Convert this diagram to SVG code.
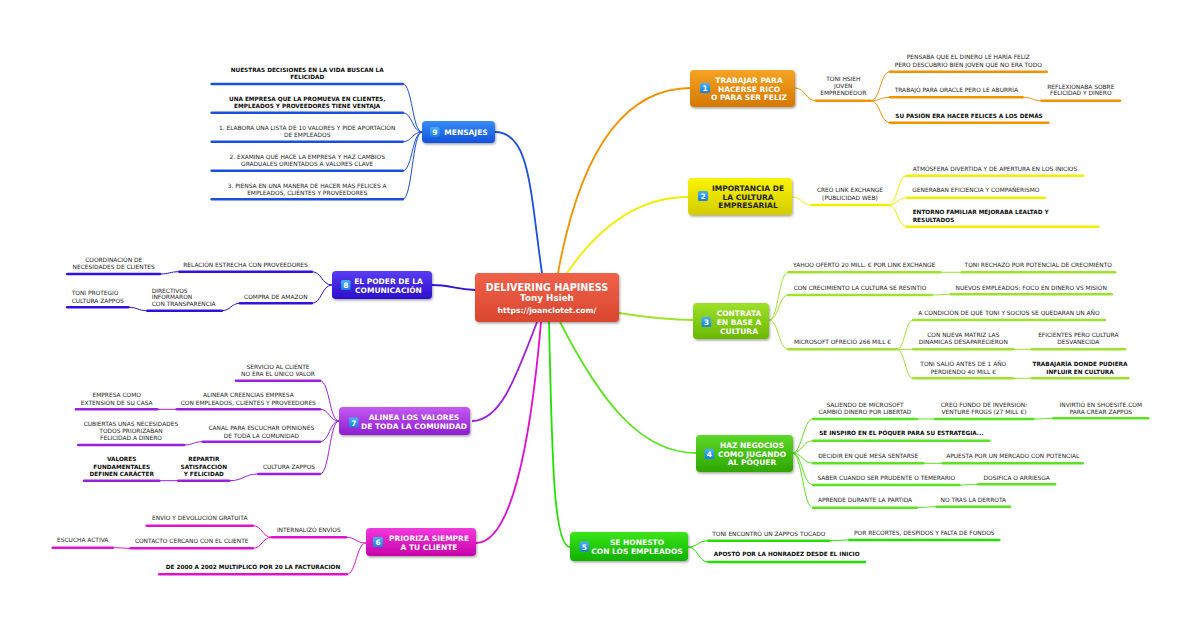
<svg xmlns="http://www.w3.org/2000/svg" width="1200" height="627" viewBox="0 0 1200 627">
<defs>
<style>
.t{font-family:"DejaVu Sans",Verdana,sans-serif;font-size:5.9px;fill:#262626;text-anchor:middle}
.s{text-anchor:start}
.b{font-weight:bold;fill:#0d0d0d;font-size:5.75px}
.tp{font-family:"DejaVu Sans",Verdana,sans-serif;font-weight:bold;font-size:7.5px;fill:#fff;text-anchor:middle}
.dk{fill:#222}
.bn{font-family:"DejaVu Sans",Verdana,sans-serif;font-weight:bold;font-size:7.5px;fill:#fff;text-anchor:middle}
.u{fill:none;stroke-width:2.6;stroke-linecap:round}
.c{fill:none;stroke-width:1}
.m{fill:none;stroke-width:1.8}
.o{stroke:#f39200}.y{stroke:#f2ee00}.lg{stroke:#9ee22d}.g{stroke:#5ce31f}.bg{stroke:#22e000}.mg{stroke:#e010d0}.pu{stroke:#9b1fe0}.in{stroke:#3311dd}.bl{stroke:#1a4fe0}
</style>
<filter id="sh" x="-20%" y="-20%" width="140%" height="150%"><feDropShadow dx="1" dy="1.5" stdDeviation="1.2" flood-color="#000" flood-opacity="0.35"/></filter>
<linearGradient id="gR" x1="0" y1="0" x2="0" y2="1"><stop offset="0" stop-color="#f0614a"/><stop offset="1" stop-color="#d9462f"/></linearGradient>
<linearGradient id="g1" x1="0" y1="0" x2="0" y2="1"><stop offset="0" stop-color="#f5a324"/><stop offset="1" stop-color="#d47800"/></linearGradient>
<linearGradient id="g2" x1="0" y1="0" x2="0" y2="1"><stop offset="0" stop-color="#f8f400"/><stop offset="1" stop-color="#d4cc00"/></linearGradient>
<linearGradient id="g3" x1="0" y1="0" x2="0" y2="1"><stop offset="0" stop-color="#9ee02a"/><stop offset="1" stop-color="#68b800"/></linearGradient>
<linearGradient id="g4" x1="0" y1="0" x2="0" y2="1"><stop offset="0" stop-color="#5cd82a"/><stop offset="1" stop-color="#2ea600"/></linearGradient>
<linearGradient id="g5" x1="0" y1="0" x2="0" y2="1"><stop offset="0" stop-color="#3ae618"/><stop offset="1" stop-color="#10b000"/></linearGradient>
<linearGradient id="g6" x1="0" y1="0" x2="0" y2="1"><stop offset="0" stop-color="#f23adc"/><stop offset="1" stop-color="#c600a8"/></linearGradient>
<linearGradient id="g7" x1="0" y1="0" x2="0" y2="1"><stop offset="0" stop-color="#c45af2"/><stop offset="1" stop-color="#8e1ed0"/></linearGradient>
<linearGradient id="g8" x1="0" y1="0" x2="0" y2="1"><stop offset="0" stop-color="#5a3cf2"/><stop offset="1" stop-color="#2a0ecc"/></linearGradient>
<linearGradient id="g9" x1="0" y1="0" x2="0" y2="1"><stop offset="0" stop-color="#3a8cf6"/><stop offset="1" stop-color="#1052dc"/></linearGradient>
<linearGradient id="gB" x1="0" y1="0" x2="0" y2="1"><stop offset="0" stop-color="#49b0f5"/><stop offset="1" stop-color="#1a7ee0"/></linearGradient>
</defs>
<rect width="1200" height="627" fill="#fff"/>

<g id="connectors">
<path class="m o" d="M558 273 C575 180 610 88 691 88"/>
<path class="m y" d="M567 273 C600 225 640 197 688 197"/>
<path class="m lg" d="M619 313 C650 318 670 320 694 320"/>
<path class="m g" d="M560 322 C600 400 640 453 696 453"/>
<path class="m bg" d="M549 322 C552 450 553 547 570 547"/>
<path class="m mg" d="M541 322 C530 450 510 543 476 543"/>
<path class="m pu" d="M537 322 C515 380 500 421 472 421"/>
<path class="m in" d="M475 290 C455 289 450 285 432 285"/>
<path class="m bl" d="M542 273 C530 190 530 132 495 132"/>

<path class="c o" d="M795 88 C805.5 88 805.5 100.7 816 100.7"/>
<path class="c o" d="M870.7 100.7 C880.3 100.7 880.3 71.7 890 71.7"/>
<path class="c o" d="M870.7 100.7 C880.3 100.7 880.3 97.3 890 97.3"/>
<path class="c o" d="M870.7 100.7 C880.3 100.7 880.3 122.7 890 122.7"/>
<path class="c o" d="M1022.7 97.3 C1032.2 97.3 1032.2 100.7 1041.7 100.7"/>

<path class="c y" d="M792 197 C801.8 197 801.8 205 811.7 205"/>
<path class="c y" d="M888.3 205 C897.5 205 897.5 175.7 906.7 175.7"/>
<path class="c y" d="M888.3 205 C897.5 205 897.5 197.7 906.7 197.7"/>
<path class="c y" d="M888.3 205 C897.5 205 897.5 226.7 906.7 226.7"/>

<path class="c lg" d="M769 320 C778.6 320 778.6 272.3 788.3 272.3"/>
<path class="c lg" d="M769 320 C778.6 320 778.6 295 788.3 295"/>
<path class="c lg" d="M769 320 C778.6 320 778.6 349.3 788.3 349.3"/>
<path class="c lg" d="M940 272.3 L961.7 272.3"/>
<path class="c lg" d="M931.7 295 C941.2 295 941.2 294.3 950.7 294.3"/>
<path class="c lg" d="M896.7 349.3 C905 349.3 905 320 913.3 320"/>
<path class="c lg" d="M896.7 349.3 L913.3 349.3"/>
<path class="c lg" d="M896.7 349.3 C905 349.3 905 378.3 913.3 378.3"/>
<path class="c lg" d="M1013.3 349.3 L1031.7 349.3"/>
<path class="c lg" d="M1013.3 378.3 L1031.7 378.3"/>

<path class="c g" d="M792 453 C802.6 453 802.6 419 813.3 419"/>
<path class="c g" d="M792 453 C802.6 453 802.6 440.7 813.3 440.7"/>
<path class="c g" d="M792 453 C802.6 453 802.6 463.3 813.3 463.3"/>
<path class="c g" d="M792 453 C802.6 453 802.6 485 813.3 485"/>
<path class="c g" d="M792 453 C802.6 453 802.6 507.7 813.3 507.7"/>
<path class="c g" d="M916.7 419 L935 419"/>
<path class="c g" d="M1033.3 419 C1043.3 419 1043.3 418.3 1053.3 418.3"/>
<path class="c g" d="M923.3 463.3 L942.7 463.3"/>
<path class="c g" d="M959.3 485 C968.8 485 968.8 484.3 978.3 484.3"/>
<path class="c g" d="M916.7 507.7 C926.7 507.7 926.7 506.7 936.7 506.7"/>

<path class="c bg" d="M688 547 C698.1 547 698.1 540.7 708.3 540.7"/>
<path class="c bg" d="M688 547 C698.1 547 698.1 562 708.3 562"/>
<path class="c bg" d="M829.3 540.7 C839.3 540.7 839.3 540 849.3 540"/>

<path class="c mg" d="M366 543 C356 543 356 537.3 346 537.3"/>
<path class="c mg" d="M366 543 C356.3 543 356.3 574.3 346.7 574.3"/>
<path class="c mg" d="M271.7 537.3 C262.2 537.3 262.2 525.7 252.7 525.7"/>
<path class="c mg" d="M271.7 537.3 C262.2 537.3 262.2 548.3 252.7 548.3"/>
<path class="c mg" d="M130.7 548.3 C121.7 548.3 121.7 547.7 112.7 547.7"/>

<path class="c pu" d="M339 421 C329.5 421 329.5 380.7 320 380.7"/>
<path class="c pu" d="M339 421 C329.5 421 329.5 409.3 320 409.3"/>
<path class="c pu" d="M339 421 C329.5 421 329.5 441.7 320 441.7"/>
<path class="c pu" d="M339 421 C329.5 421 329.5 474 320 474"/>
<path class="c pu" d="M176.7 409.3 L157.3 409.3"/>
<path class="c pu" d="M202.7 441.7 C193.3 441.7 193.3 445 184 445"/>
<path class="c pu" d="M258.3 474 C243.8 474 243.8 480.7 229.3 480.7"/>
<path class="c pu" d="M178.3 480.7 L159.3 480.7"/>

<path class="c in" d="M332 285 C321.8 285 321.8 271.7 311.7 271.7"/>
<path class="c in" d="M332 285 C321.8 285 321.8 303.3 311.7 303.3"/>
<path class="c in" d="M179.3 271.7 C169.6 271.7 169.6 274 160 274"/>
<path class="c in" d="M240 303.3 C230.8 303.3 230.8 310.7 221.7 310.7"/>
<path class="c in" d="M147.3 310.7 C137.8 310.7 137.8 307.3 128.3 307.3"/>

<path class="c bl" d="M422 132 C412.3 132 412.3 84 402.7 84"/>
<path class="c bl" d="M422 132 C412.3 132 412.3 112.7 402.7 112.7"/>
<path class="c bl" d="M422 132 C412.3 132 412.3 141.7 402.7 141.7"/>
<path class="c bl" d="M422 132 C412.3 132 412.3 170.7 402.7 170.7"/>
<path class="c bl" d="M422 132 C412.3 132 412.3 199.3 402.7 199.3"/>
</g>

<g id="center">
<rect x="475" y="273" width="144" height="49" rx="4" fill="url(#gR)" filter="url(#sh)"/>
<text class="tp" x="547" y="290.5" style="font-size:9.6px">DELIVERING HAPINESS</text>
<text class="tp" x="547" y="301" style="font-size:8.8px">Tony Hsieh</text>
<text class="tp" x="547" y="312.5" style="font-size:7.7px">https://joanclotet.com/</text>
</g>

<g id="topic1">
<rect x="690" y="70" width="105" height="37" rx="4" fill="url(#g1)" filter="url(#sh)"/>
<rect x="700" y="83" width="10" height="10" rx="1.5" fill="url(#gB)"/><text class="bn" x="705" y="91">1</text>
<text class="tp" x="749" y="83.3">TRABAJAR PARA</text>
<text class="tp" x="749" y="91.7">HACERSE RICO</text>
<text class="tp" x="749" y="100">O PARA SER FELIZ</text>
</g>
<g id="topic2">
<rect x="688" y="178" width="104" height="37" rx="4" fill="url(#g2)" filter="url(#sh)"/>
<rect x="698" y="191" width="10" height="10" rx="1.5" fill="url(#gB)"/><text class="bn" x="703" y="199">2</text>
<text class="tp dk" x="748" y="190.7">IMPORTANCIA DE</text>
<text class="tp dk" x="748" y="199.5">LA CULTURA</text>
<text class="tp dk" x="748" y="208.3">EMPRESARIAL</text>
</g>
<g id="topic3">
<rect x="693" y="303" width="76" height="36" rx="4" fill="url(#g3)" filter="url(#sh)"/>
<rect x="701.5" y="317" width="9.5" height="10" rx="1.5" fill="url(#gB)"/><text class="bn" x="706.3" y="325">3</text>
<text class="tp" x="739" y="316">CONTRATA</text>
<text class="tp" x="739" y="325">EN BASE A</text>
<text class="tp" x="739" y="333.7">CULTURA</text>
</g>
<g id="topic4">
<rect x="696" y="435" width="97" height="37" rx="4" fill="url(#g4)" filter="url(#sh)"/>
<rect x="704.5" y="449" width="9.5" height="10" rx="1.5" fill="url(#gB)"/><text class="bn" x="709.3" y="457">4</text>
<text class="tp" x="752" y="448.3">HAZ NEGOCIOS</text>
<text class="tp" x="752" y="457">COMO JUGANDO</text>
<text class="tp" x="752" y="465.3">AL PÓQUER</text>
</g>
<g id="topic5">
<rect x="570" y="532" width="118" height="29" rx="4" fill="url(#g5)" filter="url(#sh)"/>
<rect x="579.5" y="541.5" width="9.5" height="10" rx="1.5" fill="url(#gB)"/><text class="bn" x="584.3" y="549.5">5</text>
<text class="tp" x="637" y="545">SE HONESTO</text>
<text class="tp" x="637" y="553.5">CON LOS EMPLEADOS</text>
</g>
<g id="topic6">
<rect x="366" y="528" width="110" height="28" rx="4" fill="url(#g6)" filter="url(#sh)"/>
<rect x="373" y="537" width="10" height="10" rx="1.5" fill="url(#gB)"/><text class="bn" x="378" y="545">6</text>
<text class="tp" x="429" y="541">PRIORIZA SIEMPRE</text>
<text class="tp" x="429" y="550">A TU CLIENTE</text>
</g>
<g id="topic7">
<rect x="339" y="407" width="131" height="28" rx="4" fill="url(#g7)" filter="url(#sh)"/>
<rect x="349" y="417.5" width="9.5" height="10" rx="1.5" fill="url(#gB)"/><text class="bn" x="353.8" y="425.5">7</text>
<text class="tp" x="414" y="420">ALINEA LOS VALORES</text>
<text class="tp" x="414" y="429">DE TODA LA COMUNIDAD</text>
</g>
<g id="topic8">
<rect x="332" y="271" width="100" height="28" rx="4" fill="url(#g8)" filter="url(#sh)"/>
<rect x="341" y="280" width="9.5" height="10" rx="1.5" fill="url(#gB)"/><text class="bn" x="345.8" y="288">8</text>
<text class="tp" x="388.5" y="283.7">EL PODER DE LA</text>
<text class="tp" x="388.5" y="292.7">COMUNICACIÓN</text>
</g>
<g id="topic9">
<rect x="422" y="121" width="73" height="22" rx="4" fill="url(#g9)" filter="url(#sh)"/>
<rect x="430" y="127" width="9.5" height="10" rx="1.5" fill="url(#gB)"/><text class="bn" x="434.8" y="135">9</text>
<text class="tp" x="466" y="135.3">MENSAJES</text>
</g>

<g id="b1">
<g id="n1a"><text class="t" x="843.3"><tspan x="843.3" y="81.3">TONI HSIEH</tspan><tspan x="843.3" y="88.3">JOVEN</tspan><tspan x="843.3" y="95.3">EMPRENDEDOR</tspan></text><path class="u o" d="M816 100.7 H870.7"/></g>
<g id="n1b"><text class="t"><tspan x="968.3" y="59.3">PENSABA QUE EL DINERO LE HARÍA FELIZ</tspan><tspan x="968.3" y="67">PERO DESCUBRIÓ BIEN JOVEN QUE NO ERA TODO</tspan></text><path class="u o" d="M890 71.7 H1046.7"/></g>
<g id="n1c"><text class="t" x="956.3" y="92">TRABAJÓ PARA ORACLE PERO LE ABURRÍA</text><path class="u o" d="M890 97.3 H1022.7"/></g>
<g id="n1d"><text class="t"><tspan x="1080.8" y="88.7">REFLEXIONABA SOBRE</tspan><tspan x="1080.8" y="95.3">FELICIDAD Y DINERO</tspan></text><path class="u o" d="M1041.7 100.7 H1120"/></g>
<g id="n1e"><text class="t b" x="969" y="117.7">SU PASIÓN ERA HACER FELICES A LOS DEMÁS</text><path class="u o" d="M890 122.7 H1048.3"/></g>
</g>

<g id="b2">
<g id="n2a"><text class="t"><tspan x="850" y="192">CREÓ LINK EXCHANGE</tspan><tspan x="850" y="199.7">(PUBLICIDAD WEB)</tspan></text><path class="u y" d="M811.7 205 H888.3"/></g>
<g id="n2b"><text class="t" x="995" y="171">ATMÓSFERA DIVERTIDA Y DE APERTURA EN LOS INICIOS</text><path class="u y" d="M906.7 175.7 H1083.3"/></g>
<g id="n2c"><text class="t" x="975.8" y="192">GENERABAN EFICIENCIA Y COMPAÑERISMO</text><path class="u y" d="M906.7 197.7 H1045"/></g>
<g id="n2d"><text class="t b s"><tspan x="912.7" y="214.3">ENTORNO FAMILIAR MEJORABA LEALTAD Y</tspan><tspan x="912.7" y="222">RESULTADOS</tspan></text><path class="u y" d="M906.7 226.7 H1098.3"/></g>
</g>

<g id="b3">
<g id="n3a"><text class="t" x="864.2" y="267">YAHOO OFERTÓ 20 MILL. € POR LINK EXCHANGE</text><path class="u lg" d="M788.3 272.3 H940"/></g>
<g id="n3b"><text class="t" x="1038.3" y="267">TONI RECHAZÓ POR POTENCIAL DE CRECIMIENTO</text><path class="u lg" d="M961.7 272.3 H1115"/></g>
<g id="n3c"><text class="t" x="860" y="289.7">CON CRECIMIENTO LA CULTURA SE RESINTIÓ</text><path class="u lg" d="M788.3 295 H931.7"/></g>
<g id="n3d"><text class="t" x="1031.2" y="289.7">NUEVOS EMPLEADOS: FOCO EN DINERO VS MISIÓN</text><path class="u lg" d="M950.7 294.3 H1111.7"/></g>
<g id="n3e"><text class="t" x="842.5" y="344.3">MICROSOFT OFRECIÓ 266 MILL €</text><path class="u lg" d="M788.3 349.3 H896.7"/></g>
<g id="n3f"><text class="t" x="1009" y="314.7">A CONDICIÓN DE QUE TONI Y SOCIOS SE QUEDARAN UN AÑO</text><path class="u lg" d="M913.3 320 H1105"/></g>
<g id="n3g"><text class="t"><tspan x="963.3" y="337">CON NUEVA MATRIZ LAS</tspan><tspan x="963.3" y="344.3">DINÁMICAS DESAPARECIERON</tspan></text><path class="u lg" d="M913.3 349.3 H1013.3"/></g>
<g id="n3h"><text class="t"><tspan x="1078.3" y="337">EFICIENTES PERO CULTURA</tspan><tspan x="1078.3" y="344.3">DESVANECIDA</tspan></text><path class="u lg" d="M1031.7 349.3 H1125"/></g>
<g id="n3i"><text class="t"><tspan x="963.3" y="366">TONI SALIÓ ANTES DE 1 AÑO</tspan><tspan x="963.3" y="373.7">PERDIENDO 40 MILL €</tspan></text><path class="u lg" d="M913.3 378.3 H1013.3"/></g>
<g id="n3j"><text class="t b"><tspan x="1080" y="366">TRABAJARÍA DONDE PUDIERA</tspan><tspan x="1080" y="373.7">INFLUIR EN CULTURA</tspan></text><path class="u lg" d="M1031.7 378.3 H1128.3"/></g>
</g>

<g id="b4">
<g id="n4a"><text class="t"><tspan x="865" y="407">SALIENDO DE MICROSOFT</tspan><tspan x="865" y="413.7">CAMBIÓ DINERO POR LIBERTAD</tspan></text><path class="u g" d="M813.3 419 H916.7"/></g>
<g id="n4b"><text class="t"><tspan x="984" y="407">CREÓ FONDO DE INVERSIÓN:</tspan><tspan x="984" y="413.7">VENTURE FROGS (27 MILL €)</tspan></text><path class="u g" d="M935 419 H1033.3"/></g>
<g id="n4c"><text class="t"><tspan x="1100.8" y="407">INVIRTIÓ EN SHOESITE.COM</tspan><tspan x="1100.8" y="413.7">PARA CREAR ZAPPOS</tspan></text><path class="u g" d="M1053.3 418.3 H1148.3"/></g>
<g id="n4d"><text class="t b" x="901.3" y="435.3">SE INSPIRÓ EN EL PÓQUER PARA SU ESTRATEGIA...</text><path class="u g" d="M813.3 440.7 H989.3"/></g>
<g id="n4e"><text class="t" x="868.3" y="458">DECIDIR EN QUE MESA SENTARSE</text><path class="u g" d="M813.3 463.3 H923.3"/></g>
<g id="n4f"><text class="t" x="1012.7" y="458">APUESTA POR UN MERCADO CON POTENCIAL</text><path class="u g" d="M942.7 463.3 H1082.7"/></g>
<g id="n4g"><text class="t" x="886.3" y="479.7">SABER CUANDO SER PRUDENTE O TEMERARIO</text><path class="u g" d="M813.3 485 H959.3"/></g>
<g id="n4h"><text class="t" x="1016.7" y="479.7">DOSIFICA O ARRIESGA</text><path class="u g" d="M978.3 484.3 H1055"/></g>
<g id="n4i"><text class="t" x="865" y="502">APRENDE DURANTE LA PARTIDA</text><path class="u g" d="M813.3 507.7 H916.7"/></g>
<g id="n4j"><text class="t" x="973.3" y="502">NO TRAS LA DERROTA</text><path class="u g" d="M936.7 506.7 H1010"/></g>
</g>

<g id="b5">
<g id="n5a"><text class="t" x="768.8" y="536">TONI ENCONTRÓ UN ZAPPOS TOCADO</text><path class="u bg" d="M708.3 540.7 H829.3"/></g>
<g id="n5b"><text class="t" x="924.3" y="535.3">POR RECORTES, DESPIDOS Y FALTA DE FONDOS</text><path class="u bg" d="M849.3 540 H999.3"/></g>
<g id="n5c"><text class="t b" x="786.7" y="556.3">APOSTÓ POR LA HONRADEZ DESDE EL INICIO</text><path class="u bg" d="M708.3 562 H865"/></g>
</g>

<g id="b6">
<g id="n6a"><text class="t" x="308.8" y="532">INTERNALIZÓ ENVÍOS</text><path class="u mg" d="M271.7 537.3 H346"/></g>
<g id="n6b"><text class="t" x="199.7" y="520.3">ENVÍO Y DEVOLUCIÓN GRATUITA</text><path class="u mg" d="M146.7 525.7 H252.7"/></g>
<g id="n6c"><text class="t" x="191.7" y="543">CONTACTO CERCANO CON EL CLIENTE</text><path class="u mg" d="M130.7 548.3 H252.7"/></g>
<g id="n6d"><text class="t" x="82.7" y="542">ESCUCHA ACTIVA</text><path class="u mg" d="M52.7 547.7 H112.7"/></g>
<g id="n6e"><text class="t b" x="253" y="569.3">DE 2000 A 2002 MULTIPLICÓ POR 20 LA FACTURACIÓN</text><path class="u mg" d="M159.3 574.3 H346.7"/></g>
</g>

<g id="b7">
<g id="n7a"><text class="t"><tspan x="278" y="368.7">SERVICIO AL CLIENTE</tspan><tspan x="278" y="376">NO ERA EL ÚNICO VALOR</tspan></text><path class="u pu" d="M236 380.7 H320"/></g>
<g id="n7b"><text class="t"><tspan x="248.3" y="397">ALINEAR CREENCIAS EMPRESA</tspan><tspan x="248.3" y="404.7">CON EMPLEADOS, CLIENTES Y PROVEEDORES</tspan></text><path class="u pu" d="M176.7 409.3 H320"/></g>
<g id="n7c"><text class="t"><tspan x="116.7" y="397">EMPRESA COMO</tspan><tspan x="116.7" y="404.7">EXTENSIÓN DE SU CASA</tspan></text><path class="u pu" d="M76 409.3 H157.3"/></g>
<g id="n7d"><text class="t"><tspan x="261.3" y="430.3">CANAL PARA ESCUCHAR OPINIONES</tspan><tspan x="261.3" y="437.7">DE TODA LA COMUNIDAD</tspan></text><path class="u pu" d="M202.7 441.7 H320"/></g>
<g id="n7e"><text class="t"><tspan x="131" y="426">CUBIERTAS UNAS NECESIDADES</tspan><tspan x="131" y="432.7">TODOS PRIORIZABAN</tspan><tspan x="131" y="439.7">FELICIDAD A DINERO</tspan></text><path class="u pu" d="M78.3 445 H184"/></g>
<g id="n7f"><text class="t" x="289" y="469.3">CULTURA ZAPPOS</text><path class="u pu" d="M258.3 474 H320"/></g>
<g id="n7g"><text class="t b"><tspan x="203.8" y="461.3">REPARTIR</tspan><tspan x="203.8" y="468.7">SATISFACCIÓN</tspan><tspan x="203.8" y="476">Y FELICIDAD</tspan></text><path class="u pu" d="M178.3 480.7 H229.3"/></g>
<g id="n7h"><text class="t b"><tspan x="121.7" y="461.3">VALORES</tspan><tspan x="121.7" y="468.7">FUNDAMENTALES</tspan><tspan x="121.7" y="476">DEFINEN CARÁCTER</tspan></text><path class="u pu" d="M84 480.7 H159.3"/></g>
</g>

<g id="b8">
<g id="n8a"><text class="t" x="245.5" y="267">RELACIÓN ESTRECHA CON PROVEEDORES</text><path class="u in" d="M179.3 271.7 H311.7"/></g>
<g id="n8b"><text class="t"><tspan x="113.7" y="262">COORDINACIÓN DE</tspan><tspan x="113.7" y="269.3">NECESIDADES DE CLIENTES</tspan></text><path class="u in" d="M67.3 274 H160"/></g>
<g id="n8c"><text class="t" x="275.8" y="298.7">COMPRA DE AMAZON</text><path class="u in" d="M240 303.3 H311.7"/></g>
<g id="n8d"><text class="t s"><tspan x="151.7" y="292.7">DIRECTIVOS</tspan><tspan x="151.7" y="299.3">INFORMARON</tspan><tspan x="151.7" y="306">CON TRANSPARENCIA</tspan></text><path class="u in" d="M147.3 310.7 H221.7"/></g>
<g id="n8e"><text class="t s"><tspan x="71.7" y="295.3">TONI PROTEGIÓ</tspan><tspan x="71.7" y="302.7">CULTURA ZAPPOS</tspan></text><path class="u in" d="M67.3 307.3 H128.3"/></g>
</g>

<g id="b9">
<g id="n9a"><text class="t b"><tspan x="307.2" y="72">NUESTRAS DECISIONES EN LA VIDA BUSCAN LA</tspan><tspan x="307.2" y="78.7">FELICIDAD</tspan></text><path class="u bl" d="M211.7 84 H402.7"/></g>
<g id="n9b"><text class="t b"><tspan x="307.2" y="101">UNA EMPRESA QUE LA PROMUEVA EN CLIENTES,</tspan><tspan x="307.2" y="107.7">EMPLEADOS Y PROVEEDORES TIENE VENTAJA</tspan></text><path class="u bl" d="M211.7 112.7 H402.7"/></g>
<g id="n9c"><text class="t"><tspan x="307.2" y="129.7">1. ELABORA UNA LISTA DE 10 VALORES Y PIDE APORTACIÓN</tspan><tspan x="307.2" y="137">DE EMPLEADOS</tspan></text><path class="u bl" d="M211.7 141.7 H402.7"/></g>
<g id="n9d"><text class="t"><tspan x="307.2" y="158.7">2. EXAMINA QUÉ HACE LA EMPRESA Y HAZ CAMBIOS</tspan><tspan x="307.2" y="166">GRADUALES ORIENTADOS A VALORES CLAVE</tspan></text><path class="u bl" d="M211.7 170.7 H402.7"/></g>
<g id="n9e"><text class="t"><tspan x="307.2" y="187.7">3. PIENSA EN UNA MANERA DE HACER MÁS FELICES A</tspan><tspan x="307.2" y="194.7">EMPLEADOS, CLIENTES Y PROVEEDORES</tspan></text><path class="u bl" d="M211.7 199.3 H402.7"/></g>
</g>
</svg>
